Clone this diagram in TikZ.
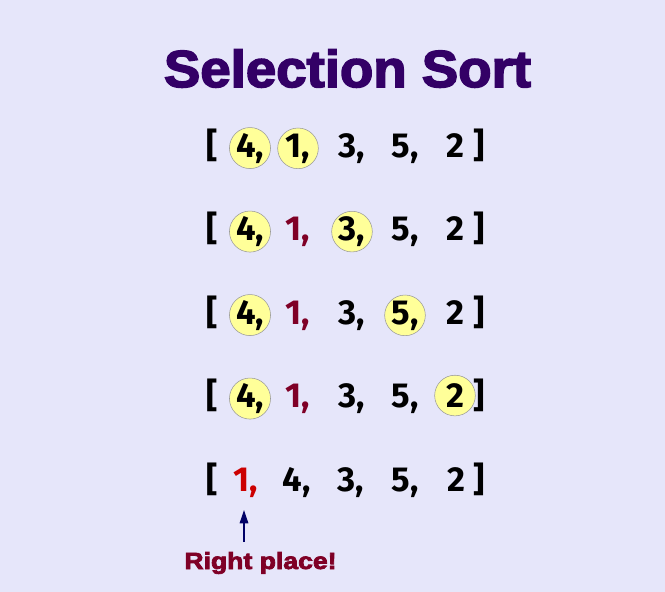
\documentclass[tikz,border=0pt]{standalone}
\usepackage{fontspec}
\usetikzlibrary{arrows.meta}
\newfontfamily\numfont{Fira Sans}
\newfontfamily\headfont[FakeBold=3]{Liberation Sans Bold}
\definecolor{lavbg}{HTML}{E6E6FA}
\definecolor{headpurple}{HTML}{330066}
\definecolor{pickyellow}{HTML}{FFFF99}
\definecolor{maroon}{HTML}{7F0026}
\definecolor{navyarrow}{HTML}{000066}
\tikzset{
    cell/.style={font=\numfont\bfseries\fontsize{26}{26}\selectfont, inner sep=0pt, anchor=base},
    pick/.style={cell, circle, minimum size=30.5pt, draw=gray!80, fill=pickyellow},
    placed/.style={cell, text=maroon},
    pointer/.style={-{Triangle[length=10pt,width=6.5pt]}, navyarrow, line width=0.8pt}
}

\begin{document}
\begin{tikzpicture}[x=0.75pt,y=-0.75pt]
        \fill[lavbg] (0,0) rectangle (665,592);
        \node[anchor=base, text=headpurple, xscale=1.05, font=\headfont\fontsize{39}{39}\selectfont] (title) at (347.5,87) {Selection Sort};
        % first four passes
        \foreach \r/\a/\b/\c/\d/\e in {1/pick/pick/cell/cell/cell, 2/pick/placed/pick/cell/cell, 3/pick/placed/cell/pick/cell, 4/pick/placed/cell/cell/pick} {
            \node[cell] (r\r l) at (212,{157+83.5*(\r-1)}) {[};
            \node[\a] (r\r c1) at (250,{157+83.5*(\r-1)}) {4,};
            \node[\b] (r\r c2) at (298,{157+83.5*(\r-1)}) {1,};
            \node[\c] (r\r c3) at (352,{157+83.5*(\r-1)}) {3,};
            \node[\d] (r\r c4) at (405,{157+83.5*(\r-1)}) {5,};
            \node[\e] (r\r c5) at (455,{157+83.5*(\r-1)}) {2};
            \node[cell] (r\r r) at (479,{157+83.5*(\r-1)}) {]};
        }
        % after the swap
        \node[cell] (r5l) at (212,491) {[};
        \node[cell, text=red!80!black] (r5c1) at (246,491) {1,};
        \node[cell] (r5c2) at (296.5,491) {4,};
        \node[cell] (r5c3) at (351,491) {3,};
        \node[cell] (r5c4) at (405,491) {5,};
        \node[cell] (r5c5) at (456,491) {2};
        \node[cell] (r5r) at (479,491) {]};
        \node[anchor=base, text=maroon, xscale=1.14, font=\headfont\fontsize{17.5}{17.5}\selectfont] (rp) at (260.5,569) {Right place!};
        \coordinate (tail) at (244,542);
        \draw[pointer, shorten >=9.5pt] (tail) -- (tail |- r5c1.south);
    \end{tikzpicture}
\end{document}
